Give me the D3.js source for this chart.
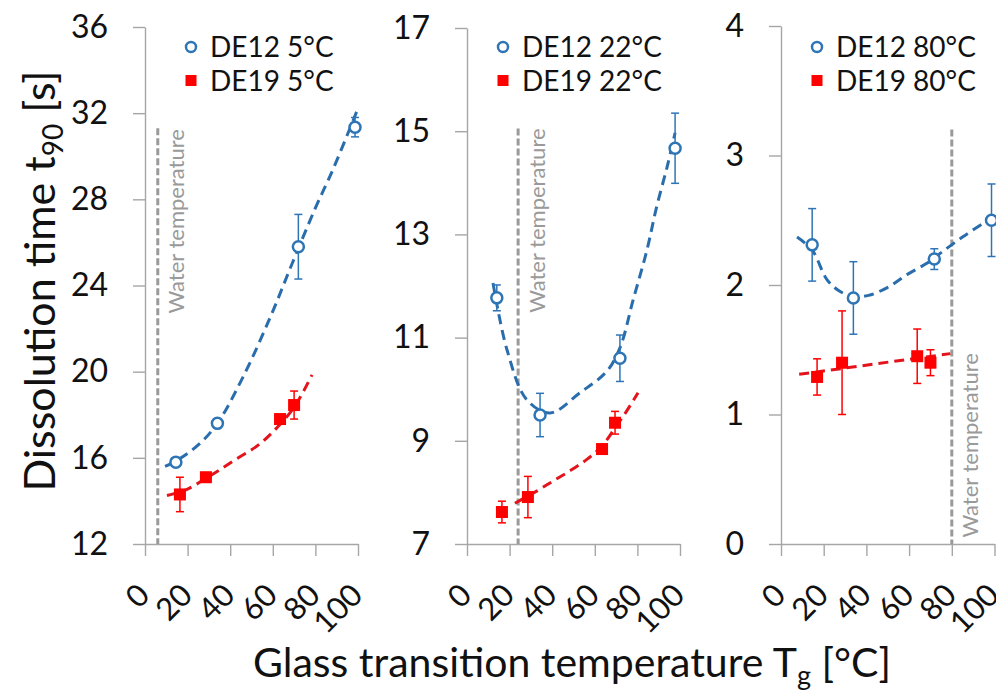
<!DOCTYPE html>
<html><head><meta charset="utf-8">
<script src="https://cdn.jsdelivr.net/npm/d3@7"></script>
<style>body{margin:0;background:#fff}svg{display:block}text{font-family:Lato,'Open Sans',sans-serif}</style>
</head><body><svg id="c" width="996" height="691"></svg>
<script>
// ---------------- data ----------------
const xTicks = [0, 20, 40, 60, 80, 100];
const yTicks5 = [12, 16, 20, 24, 28, 32, 36];
const yTicks22 = [7, 9, 11, 13, 15, 17];
const yTicks80 = [0, 1, 2, 3, 4];
const legendDE12 = ["DE12 5°C", "DE12 22°C", "DE12 80°C"];
const legendDE19 = ["DE19 5°C", "DE19 22°C", "DE19 80°C"];
const waterTemp = [6, 24, 80];
const waterLineTop = [31.3, 15.05, 3.2];
const waterLabelStart = [22.7, 11.48, 0.05];

const de12_5C = [{tg:14.5,t90:15.8,err:0.15},{tg:34,t90:17.6,err:0.2},{tg:72,t90:25.8,err:1.5},{tg:98.6,t90:31.35,err:0.45}];
const de19_5C = [{tg:16.4,t90:14.3,err:0.8},{tg:28.6,t90:15.1,err:0.15},{tg:63.4,t90:17.8,err:0.2},{tg:70,t90:18.45,err:0.65}];
const de12_22C = [{tg:14,t90:11.77,err:0.25},{tg:34.3,t90:9.5,err:0.42},{tg:71.8,t90:10.6,err:0.45},{tg:97.7,t90:14.67,err:0.68}];
const de19_22C = [{tg:16.4,t90:7.62,err:0.21},{tg:28.6,t90:7.91,err:0.4},{tg:63.4,t90:8.84,err:0.06},{tg:69.5,t90:9.35,err:0.22}];
const de12_80C = [{tg:14.6,t90:2.31,err:0.28},{tg:33.9,t90:1.9,err:0.28},{tg:71.8,t90:2.2,err:0.08},{tg:98.6,t90:2.5,err:0.28}];
const de19_80C = [{tg:16.9,t90:1.29,err:0.14},{tg:28.6,t90:1.4,err:0.4},{tg:63.8,t90:1.45,err:0.21},{tg:70,t90:1.4,err:0.1}];

const de12_5C_fit = [[9.4,15.6],[14.5,15.85],[25,16.6],[34,17.6],[46,19.75],[58.7,22.5],[69,25.0],[80,27.6],[88.3,29.4],[99.5,32.1]];
const de19_5C_fit = [[10.3,14.25],[20,14.55],[28.6,15.05],[35.2,15.45],[43,15.95],[52.6,16.55],[60,17.2],[70,18.35],[78.4,19.85]];
const de12_22C_fit = [[12.2,12.06],[18.8,10.76],[28,9.8],[39,9.54],[53,9.93],[65.7,10.35],[71.8,10.8],[78,11.73],[84.5,12.7],[89,13.53],[93.9,14.3],[97.7,14.97]];
const de19_22C_fit = [[22.5,7.79],[32.9,8.03],[40.4,8.22],[48.4,8.42],[56.3,8.64],[63.4,8.9],[69.5,9.25],[75,9.58],[80.3,9.93]];
const de12_80C_fit = [[7.5,2.37],[14.6,2.27],[21.6,2.04],[27.7,1.95],[34,1.91],[41,1.92],[49.8,1.98],[59,2.08],[68.5,2.17],[75,2.25],[85,2.37],[95,2.48],[101,2.55]];
const de19_80C_fit = [[8.5,1.31],[79.3,1.47]];

// ---------------- layout ----------------
const panels = [
  {x0:145, x1:358, yDom:[12,36], yTop:27, ticks:yTicks5, legX:191, a:de12_5C, b:de19_5C, af:de12_5C_fit, bf:de19_5C_fit, i:0},
  {x0:467, x1:680, yDom:[7,17], yTop:28, ticks:yTicks22, legX:503, a:de12_22C, b:de19_22C, af:de12_22C_fit, bf:de19_22C_fit, i:1},
  {x0:781, x1:994.5, yDom:[0,4], yTop:26, ticks:yTicks80, legX:817, a:de12_80C, b:de19_80C, af:de12_80C_fit, bf:de19_80C_fit, i:2}
];
const yBottom = 544;
const BLUE = "#2E75B6", BLUE_LINE = "#2A6DAD", RED = "#FF0000", RED_LINE = "#E3141C", AXIS = "#A6A6A6", WATER = "#9A9A9A";

const svg = d3.select("#c");
svg.append("rect").attr("width",996).attr("height",691).attr("fill","#fff");

panels.forEach(p => {
  const x = d3.scaleLinear().domain([0,100]).range([p.x0, p.x1]);
  const y = d3.scaleLinear().domain(p.yDom).range([yBottom, p.yTop]);
  const g = svg.append("g");

  // y axis
  const ya = g.append("g").attr("transform",`translate(${p.x0},0)`)
    .call(d3.axisLeft(y).tickValues(p.ticks).tickSize(12).tickSizeOuter(0).tickPadding(25).tickFormat(d3.format("d")));
  ya.selectAll("path,line").attr("stroke",AXIS).attr("stroke-width",1.4);
  ya.selectAll("text").attr("font-size",32).attr("fill","#111").attr("font-family","Lato");

  // x axis
  const xa = g.append("g").attr("transform",`translate(0,${yBottom})`)
    .call(d3.axisBottom(x).tickValues(xTicks).tickSize(12).tickSizeOuter(0).tickFormat(d3.format("d")));
  xa.selectAll("path,line").attr("stroke",AXIS).attr("stroke-width",1.4);
  xa.selectAll("text").attr("font-size",31).attr("fill","#111").attr("font-family","Lato")
    .attr("text-anchor","end").attr("y",0).attr("dy",0)
    .attr("transform","translate(6,53) rotate(-45)");

  // water temperature line
  const wx = x(waterTemp[p.i]);
  g.append("line").attr("x1",wx).attr("x2",wx).attr("y1",y(waterLineTop[p.i])).attr("y2",yBottom)
    .attr("stroke",WATER).attr("stroke-width",3).attr("stroke-dasharray","7,3");
  const ly = y(waterLabelStart[p.i]);
  g.append("text").attr("transform",`translate(${wx+18},${ly}) rotate(-90)`)
    .attr("dominant-baseline","central").attr("font-size",22).attr("fill",WATER)
    .text("Water temperature");

  const line = d3.line().x(d=>x(d[0])).y(d=>y(d[1])).curve(d3.curveCatmullRom.alpha(0.5));
  // fits
  g.append("path").attr("d",line(p.af)).attr("fill","none").attr("stroke",BLUE_LINE)
    .attr("stroke-width",3).attr("stroke-dasharray","10,6");
  g.append("path").attr("d",line(p.bf)).attr("fill","none").attr("stroke",RED_LINE)
    .attr("stroke-width",3).attr("stroke-dasharray","10,6");

  // error bars
  function errBars(data,color){
    const eg = g.append("g").attr("stroke",color).attr("stroke-width",1.5);
    data.forEach(d=>{
      const cx=x(d.tg), yt=y(d.t90+d.err), yb=y(d.t90-d.err);
      eg.append("line").attr("x1",cx).attr("x2",cx).attr("y1",yt).attr("y2",yb);
      eg.append("line").attr("x1",cx-4).attr("x2",cx+4).attr("y1",yt).attr("y2",yt);
      eg.append("line").attr("x1",cx-4).attr("x2",cx+4).attr("y1",yb).attr("y2",yb);
    });
  }
  errBars(p.b,RED);
  errBars(p.a,BLUE);

  // markers
  g.selectAll(".sq").data(p.b).join("rect")
    .attr("x",d=>x(d.tg)-6).attr("y",d=>y(d.t90)-6).attr("width",12).attr("height",12).attr("fill",RED);
  g.selectAll(".ci").data(p.a).join("circle")
    .attr("cx",d=>x(d.tg)).attr("cy",d=>y(d.t90)).attr("r",5.5)
    .attr("fill","#fff").attr("stroke",BLUE).attr("stroke-width",2.5);

  // legend
  g.append("circle").attr("cx",p.legX).attr("cy",47).attr("r",5).attr("fill","#fff").attr("stroke",BLUE).attr("stroke-width",2.5);
  g.append("rect").attr("x",p.legX-5.5).attr("y",75).attr("width",11).attr("height",11).attr("fill",RED);
  g.append("text").attr("x",p.legX+19).attr("y",46).attr("dominant-baseline","central").attr("font-size",28).attr("fill","#111").text(legendDE12[p.i]);
  g.append("text").attr("x",p.legX+19).attr("y",80).attr("dominant-baseline","central").attr("font-size",28).attr("fill","#111").text(legendDE19[p.i]);
});

// axis titles
const yt = svg.append("text").attr("transform","translate(55,281) rotate(-90)")
  .attr("text-anchor","middle").attr("font-size",43).attr("fill","#111");
yt.append("tspan").text("Dissolution time t");
yt.append("tspan").attr("font-size",28).attr("dy",8).text("90");
yt.append("tspan").attr("dy",-8).text(" [s]");

const xt = svg.append("text").attr("x",572).attr("y",677)
  .attr("text-anchor","middle").attr("font-size",41).attr("fill","#111");
xt.append("tspan").text("Glass transition temperature T");
xt.append("tspan").attr("font-size",27).attr("dy",8).text("g");
xt.append("tspan").attr("dy",-8).text(" [°C]");
</script>
</body></html>
